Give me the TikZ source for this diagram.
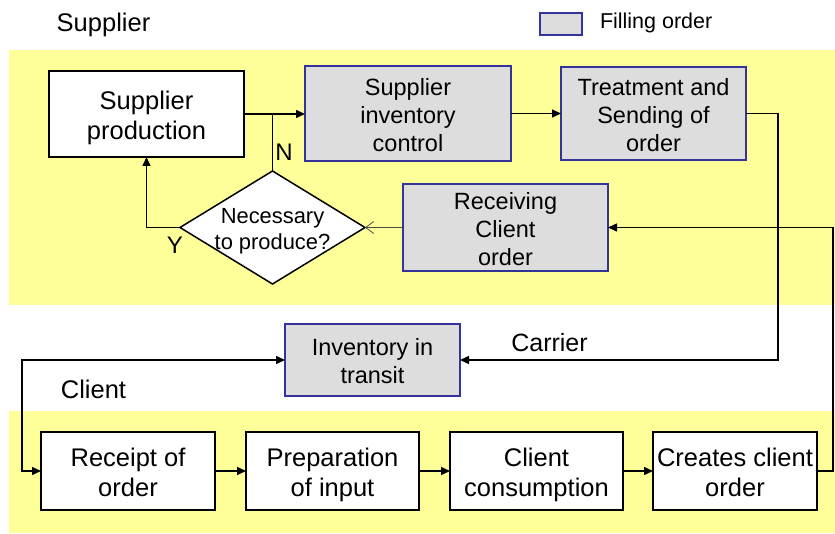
\documentclass[tikz,border=0pt]{standalone}
\usepackage{fontspec}
\setmainfont{Liberation Sans}
\usetikzlibrary{arrows.meta,shapes.geometric}
\definecolor{band}{HTML}{FFFF99}
\definecolor{fillgray}{HTML}{DDDDDD}
\definecolor{fillblue}{HTML}{333399}
\newcommand\wTop{\rule{0pt}{27pt}}
\newcommand\wBot{\rule[-6pt]{0pt}{6pt}}
\newcommand\gTop{\rule{0pt}{25.5pt}}
\newcommand\gBot{\rule[-5.9pt]{0pt}{5.9pt}}
\newcommand\dTop{\rule{0pt}{23pt}}
\newcommand\dBot{\rule[-5.6pt]{0pt}{5.6pt}}
\begin{document}
\begin{tikzpicture}[x=1pt,y=-1pt,
  every node/.style={inner sep=0pt,outer sep=0pt},
  lbl/.style={font=\fontsize{25.5}{30}\selectfont,
    execute at begin node={\rule{0pt}{26pt}},
    execute at end node={\rule[-6pt]{0pt}{6pt}}},
  wtxt/.style={font=\fontsize{25.5}{30}\selectfont,align=center},
  gtxt/.style={font=\fontsize{23.5}{28}\selectfont,align=center},
  whitebox/.style={wtxt,draw=black,line width=1.5pt,fill=white,rectangle},
  graybox/.style={gtxt,draw=fillblue,line width=1.5pt,fill=fillgray,rectangle},
  flow/.style={line width=1.5pt,-{Triangle[length=9pt,width=8pt]}},
  dia/.style={diamond,draw=black,line width=1.5pt,fill=white}]
\useasboundingbox (0,0) rectangle (835,534);
% bands
\fill[band] (9,50) rectangle (835,305);
\fill[band] (9,411) rectangle (835,533);
% titles and legend
\node[lbl] (tsup) at (103.5,22) {Supplier};
\node[lbl] (tcli) at (93.5,389) {Client};
\node[draw=fillblue,line width=1.5pt,fill=fillgray,minimum width=42pt,minimum height=22pt] (leg) at (561,24) {};
\node[font=\fontsize{21.5}{24}\selectfont,anchor=west] (legt) at (600,23) {Filling order};
% supplier boxes
\node[whitebox,minimum width=195pt,minimum height=86pt] (sp) at (146.5,114) {\wTop Supplier\\production\wBot};
\node[graybox,minimum width=206pt,minimum height=95pt] (sic) at (408,113.5) {\gTop Supplier\\inventory\\control\gBot};
\node[graybox,minimum width=185pt,minimum height=93pt] (tso) at (653.5,113.5) {\gTop Treatment and\\Sending of\\order\gBot};
\node[graybox,minimum width=205pt,minimum height=87pt] (rco) at (505.5,227.5) {\gTop Receiving\\Client\\order\gBot};
\node[dia,minimum width=185pt,minimum height=113pt,
  label={[font=\fontsize{21.9}{26}\selectfont,align=center]center:\dTop Necessary\\to produce?\dBot}] (d) at (272.5,227.5) {};
% transit
\node[graybox,minimum width=175pt,minimum height=72pt] (iit) at (372.5,360) {\gTop Inventory in\\transit\gBot};
% client boxes
\node[whitebox,minimum width=174pt,minimum height=78pt] (roo) at (128,471) {\wTop Receipt of\\order\wBot};
\node[whitebox,minimum width=173pt,minimum height=78pt] (poi) at (332.5,471) {\wTop Preparation\\of input\wBot};
\node[whitebox,minimum width=173pt,minimum height=78pt] (cc) at (536.5,471) {\wTop Client\\consumption\wBot};
\node[whitebox,minimum width=164pt,minimum height=78pt] (cco) at (735,471) {\wTop Creates client\\order\wBot};
% routing coordinates
\coordinate (lx) at (22,0);
\coordinate (rx1) at (778,0);
\coordinate (rx2) at (833,0);
% connectors
\draw[flow] (sp.east) -- (sp.east -| sic.west);
\draw[line width=1.5pt] (d.north) -- (d.north |- sp.east);
\node[font=\fontsize{24}{28}\selectfont] (tn) at (284,152) {N};
\draw[flow] (d.west) -| (sp.south);
\node[font=\fontsize{24}{28}\selectfont] (ty) at (175,245) {Y};
\draw[line width=0.8pt,draw=black!70,-{Straight Barb[length=8pt,width=12pt]}] (rco.west) -- (d.east);
\draw[flow] (sic.east |- tso.west) -- (tso.west);
\draw[flow] (tso.east) -- (tso.east -| rx1) |- (iit.east);
\node[font=\fontsize{25}{30}\selectfont,
    execute at begin node={\rule{0pt}{25.5pt}},
    execute at end node={\rule[-6pt]{0pt}{6pt}}] (tcar) at (549.5,342) {Carrier};
\draw[flow] (cco.east) -- (cco.east -| rx2) |- (rco.east);
\draw[line width=1.5pt,{Triangle[length=9pt,width=8pt]}-{Triangle[length=9pt,width=8pt]}] (iit.west) -- (iit.west -| lx) |- (roo.west);
\draw[flow] (roo.east) -- (poi.west);
\draw[flow] (poi.east) -- (cc.west);
\draw[flow] (cc.east) -- (cco.west);
\end{tikzpicture}
\end{document}
